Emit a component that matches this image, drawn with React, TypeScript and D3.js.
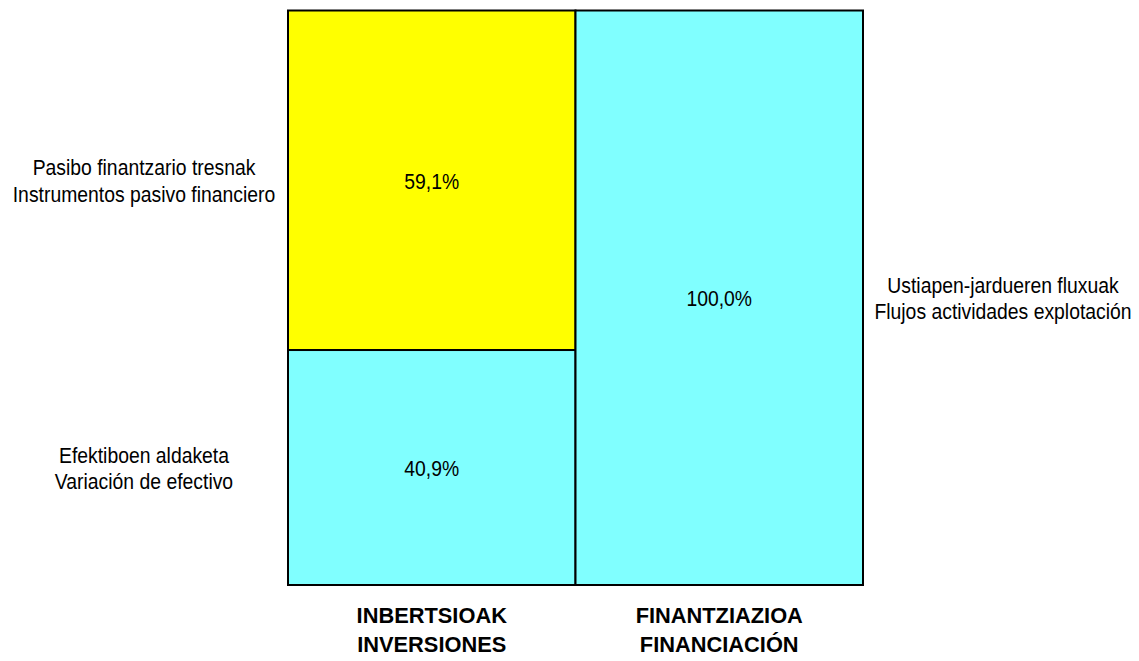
import React, { useEffect, useRef } from 'react';
import * as d3 from 'd3';

// categories (two lines each: basque / spanish)
const categories = ['INBERTSIOAK\nINVERSIONES', 'FINANTZIAZIOA\nFINANCIACIÓN'];
const leftSeries = ['Pasibo finantzario tresnak\nInstrumentos pasivo financiero', 'Efektiboen aldaketa\nVariación de efectivo'];
const leftValues = [59.1, 40.9];
const leftColors = ['#ffff00', '#80ffff'];
const rightSeries = ['Ustiapen-jardueren fluxuak\nFlujos actividades explotación'];
const rightValues = [100.0];
const rightColors = ['#80ffff'];

const W = 1139;
const H = 661;
const FONT = '"Liberation Sans", Arial, sans-serif';

export default function App() {
  const svgRef = useRef<SVGSVGElement | null>(null);

  useEffect(() => {
    const svg = d3.select(svgRef.current);
    svg.selectAll('*').remove();

    const x = d3.scaleBand().domain(categories).range([288, 863]).padding(0);
    const y = d3.scaleLinear().domain([0, 100]).range([585, 10.5]);

    const fmt = (v: number) => v.toFixed(1).replace('.', ',') + '%';

    // multi-line text, squeezed horizontally to look like a narrow font
    const addText = (
      cx: number,
      cy: number,
      txt: string,
      size: number,
      gap: number,
      sx: number,
      bold = false,
    ) => {
      const t = svg
        .append('text')
        .attr('transform', `translate(${cx},${cy}) scale(${sx},1)`)
        .attr('text-anchor', 'middle')
        .style('font-family', FONT)
        .style('font-size', `${size}px`)
        .style('font-weight', bold ? 'bold' : 'normal');
      txt.split('\n').forEach((l, j) => {
        t.append('tspan').attr('x', 0).attr('y', j * gap).text(l);
      });
    };

    // stacked segments for each column, top-down as in the source
    const stacks = [
      { cat: categories[0], names: leftSeries, values: leftValues, colors: leftColors, labelX: 144 },
      { cat: categories[1], names: rightSeries, values: rightValues, colors: rightColors, labelX: 1003 },
    ];

    stacks.forEach((s) => {
      let top = 100;
      s.values.forEach((v, i) => {
        const y0 = y(top);
        const y1 = y(top - v);
        top -= v;
        const x0 = x(s.cat)!;
        const bw = x.bandwidth();
        const mid = (y0 + y1) / 2;

        svg
          .append('rect')
          .attr('x', x0)
          .attr('y', y0)
          .attr('width', bw)
          .attr('height', y1 - y0)
          .style('fill', s.colors[i])
          .style('stroke', '#000')
          .style('stroke-width', 2);

        addText(x0 + bw / 2, mid + 8.5, fmt(v), 22, 0, 0.88);
        addText(s.labelX, mid - 5, s.names[i], 22, 26.5, 0.88);
      });
    });

    // category labels
    categories.forEach((c) => {
      const cx = x(c)! + x.bandwidth() / 2;
      addText(cx, 623, c, 22.5, 29.5, 0.97, true);
    });
  });

  return (
    <svg
      ref={svgRef}
      width={W}
      height={H}
      style={{ position: 'absolute', left: 0, top: 0, background: '#fff' }}
    ></svg>
  );
}
